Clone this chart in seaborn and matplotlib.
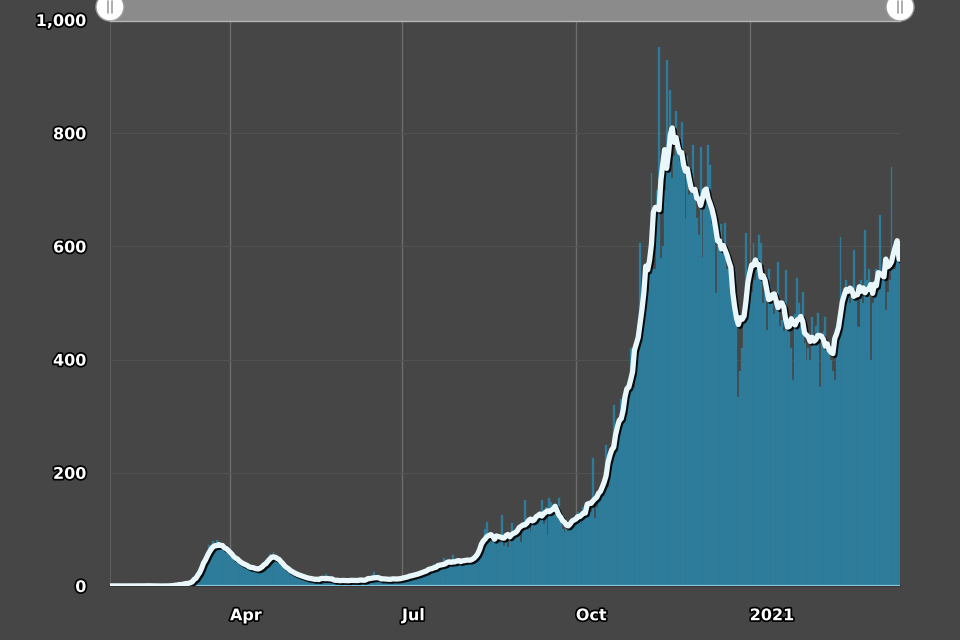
import numpy as np
import pandas as pd
import seaborn as sns
import matplotlib
matplotlib.use("Agg")
import matplotlib.pyplot as plt
import matplotlib.dates as mdates
import matplotlib.patheffects as pe
from matplotlib.patches import Rectangle, Circle

# daily new cases
jan20 = [1, 0, 0]
feb20 = [0, 0, 0, 1, 0, 0, 0, 0, 0, 0, 0, 0, 0, 0, 1, 0, 0, 0, 1, 1, 0, 0, 0, 0, 0, 0, 0, 0, 1]
mar20 = [0, 0, 1, 1, 2, 5, 2, 6, 0, 5, 7, 6, 7, 9, 17, 30, 20, 45, 40, 60, 72, 55, 80, 65, 82,
         70, 75, 72, 68, 70, 64]
apr20 = [53, 60, 55, 48, 45, 40, 44, 40, 36, 38, 33, 34, 30, 28, 31, 34, 30, 26, 32, 40, 44, 56,
         48, 60, 52, 55, 45, 38, 42, 36]
may20 = [33, 28, 26, 25, 22, 20, 24, 18, 17, 15, 16, 14, 12, 15, 11, 13, 10, 12, 9, 14, 11, 22,
         16, 8, 12, 9, 10, 11, 8, 12, 9]
jun20 = [7, 10, 12, 9, 8, 11, 13, 6, 9, 12, 10, 14, 8, 11, 13, 24, 12, 15, 18, 10, 12, 9, 11, 14,
         13, 16, 8, 12, 14, 11]
jul20 = [12, 15, 18, 14, 17, 20, 16, 22, 19, 24, 21, 23, 27, 25, 30, 28, 33, 38, 30, 32, 36, 34,
         50, 38, 42, 35, 40, 55, 39, 43, 45]
aug20 = [41, 47, 44, 43, 48, 46, 50, 42, 46, 52, 58, 70, 78, 100, 113, 85, 78, 88, 82, 90, 80, 76,
         125, 70, 84, 69, 88, 111, 90, 95, 98]
sep20 = [100, 78, 110, 152, 105, 112, 98, 120, 115, 125, 130, 118, 152, 110, 140, 90, 155, 148,
         135, 140, 128, 155, 125, 100, 95, 105, 98, 110, 120, 115]
oct20 = [125, 130, 118, 110, 140, 120, 135, 150, 130, 226, 120, 140, 150, 160, 170, 180, 250, 175,
         200, 230, 320, 260, 250, 280, 330, 300, 310, 340, 360, 420, 380]
nov20 = [350, 390, 410, 606, 440, 500, 560, 520, 600, 730, 560, 560, 700, 952, 580, 600, 700, 929,
         760, 876, 720, 760, 840, 780, 750, 820, 760, 650, 760, 690]
dec20 = [700, 779, 690, 650, 620, 776, 581, 690, 700, 779, 744, 640, 660, 518, 620, 600, 640, 590,
         641, 560, 560, 560, 540, 560, 520, 334, 380, 420, 480, 624, 540]
jan21 = [560, 520, 606, 540, 580, 620, 606, 500, 520, 452, 560, 530, 500, 480, 510, 572, 460, 470,
         450, 558, 480, 460, 420, 364, 480, 544, 500, 460, 520, 430, 400]
feb21 = [420, 399, 475, 440, 460, 482, 352, 440, 450, 475, 430, 420, 400, 380, 364, 420, 460, 617,
         480, 480, 540, 520, 500, 530, 594, 520, 460, 458]
mar21 = [540, 500, 629, 540, 560, 399, 500, 540, 560, 520, 655, 540, 560, 488, 520, 540, 740, 560,
         560, 600, 590]

cases = (jan20 + feb20 + mar20 + apr20 + may20 + jun20 + jul20 + aug20 + sep20 + oct20
         + nov20 + dec20 + jan21 + feb21 + mar21)
dates = pd.date_range("2020-01-29", periods=len(cases), freq="D")

y_ticks = [0, 200, 400, 600, 800, 1000]
y_labels = ["0", "200", "400", "600", "800", "1,000"]

df = pd.DataFrame({"date": dates, "cases": cases})
df["x"] = mdates.date2num(df["date"])
df["avg"] = df["cases"].rolling(7, center=True, min_periods=1).mean()

bg = "#464646"
sns.set_style("dark")
fig = plt.figure(figsize=(9.6, 6.4), dpi=100, facecolor=bg)
ax = fig.add_axes([110 / 960, 1 - 586 / 640, 790 / 960, 566 / 640])
ax.set_facecolor(bg)

# daily bars
x0 = df["x"].iloc[0] - 0.5
x1 = df["x"].iloc[-1] + 0.5
sns.histplot(data=df, x="x", weights="cases", binwidth=1, binrange=(x0, x1), ax=ax,
             color="#2f7e9d", alpha=1, edgecolor="#2b7593", linewidth=0.25, zorder=2)

ax.axhline(0, color="#86c8de", lw=1.6, zorder=3)

# 7-day average
sns.lineplot(data=df, x="x", y="avg", ax=ax, color="#e9f6fa", linewidth=3.8, zorder=4,
             path_effects=[pe.SimpleLineShadow(offset=(1.3, -1.3), shadow_color="black", alpha=0.9),
                           pe.Normal()])

ax.set_xlim(mdates.date2num(pd.Timestamp("2020-01-28 12:00")),
            mdates.date2num(pd.Timestamp("2021-03-21 12:00")))
ax.set_ylim(0, 1000)

ax.xaxis.set_major_locator(mdates.MonthLocator(bymonth=[1, 4, 7, 10]))
ax.xaxis.set_major_formatter(plt.FuncFormatter(
    lambda v, p: str(mdates.num2date(v).year) if mdates.num2date(v).month == 1
    else mdates.num2date(v).strftime("%b")))
ax.set_yticks(y_ticks)
ax.set_yticklabels(y_labels)
ax.set_xlabel("")
ax.set_ylabel("")

ax.grid(True, axis="x", color="#6c6c6c", lw=1, zorder=0)
ax.grid(True, axis="y", color="#515151", lw=0.8, zorder=0)
ax.set_axisbelow(True)

ax.tick_params(axis="x", length=6, width=1, color="#8a8a8a", pad=10)
ax.tick_params(axis="y", length=9, width=0.8, color="#555555", pad=8)
fig.canvas.draw()
for lab in ax.get_xticklabels():
    lab.set_horizontalalignment("left")
for lab in ax.get_xticklabels() + ax.get_yticklabels():
    lab.set_color("white")
    lab.set_fontweight("bold")
    lab.set_fontsize(11.5)
    lab.set_path_effects([pe.withStroke(linewidth=2.5, foreground="black")])

for s in ["top", "right"]:
    ax.spines[s].set_visible(False)
ax.spines["left"].set_color("#5c5c5c")
ax.spines["bottom"].set_color("#333333")
ax.spines["bottom"].set_linewidth(1.2)

# range slider at the top
ov = fig.add_axes([0, 0, 1, 1], zorder=10)
ov.set_xlim(0, 960)
ov.set_ylim(640, 0)
ov.axis("off")
ov.add_patch(Rectangle((110, -2), 790, 22, color="#8b8b8b"))
ov.plot([110, 900], [20.5, 20.5], color="#b5b5b5", lw=1)
for cx in [110, 900]:
    ov.add_patch(Circle((cx, 7), 14, facecolor="white", edgecolor="#9a9a9a", lw=1))
    ov.plot([cx - 2, cx - 2], [1, 13], color="#a0a0a0", lw=1.2)
    ov.plot([cx + 2, cx + 2], [1, 13], color="#a0a0a0", lw=1.2)

fig.savefig("out.png", dpi=100, facecolor=bg)
